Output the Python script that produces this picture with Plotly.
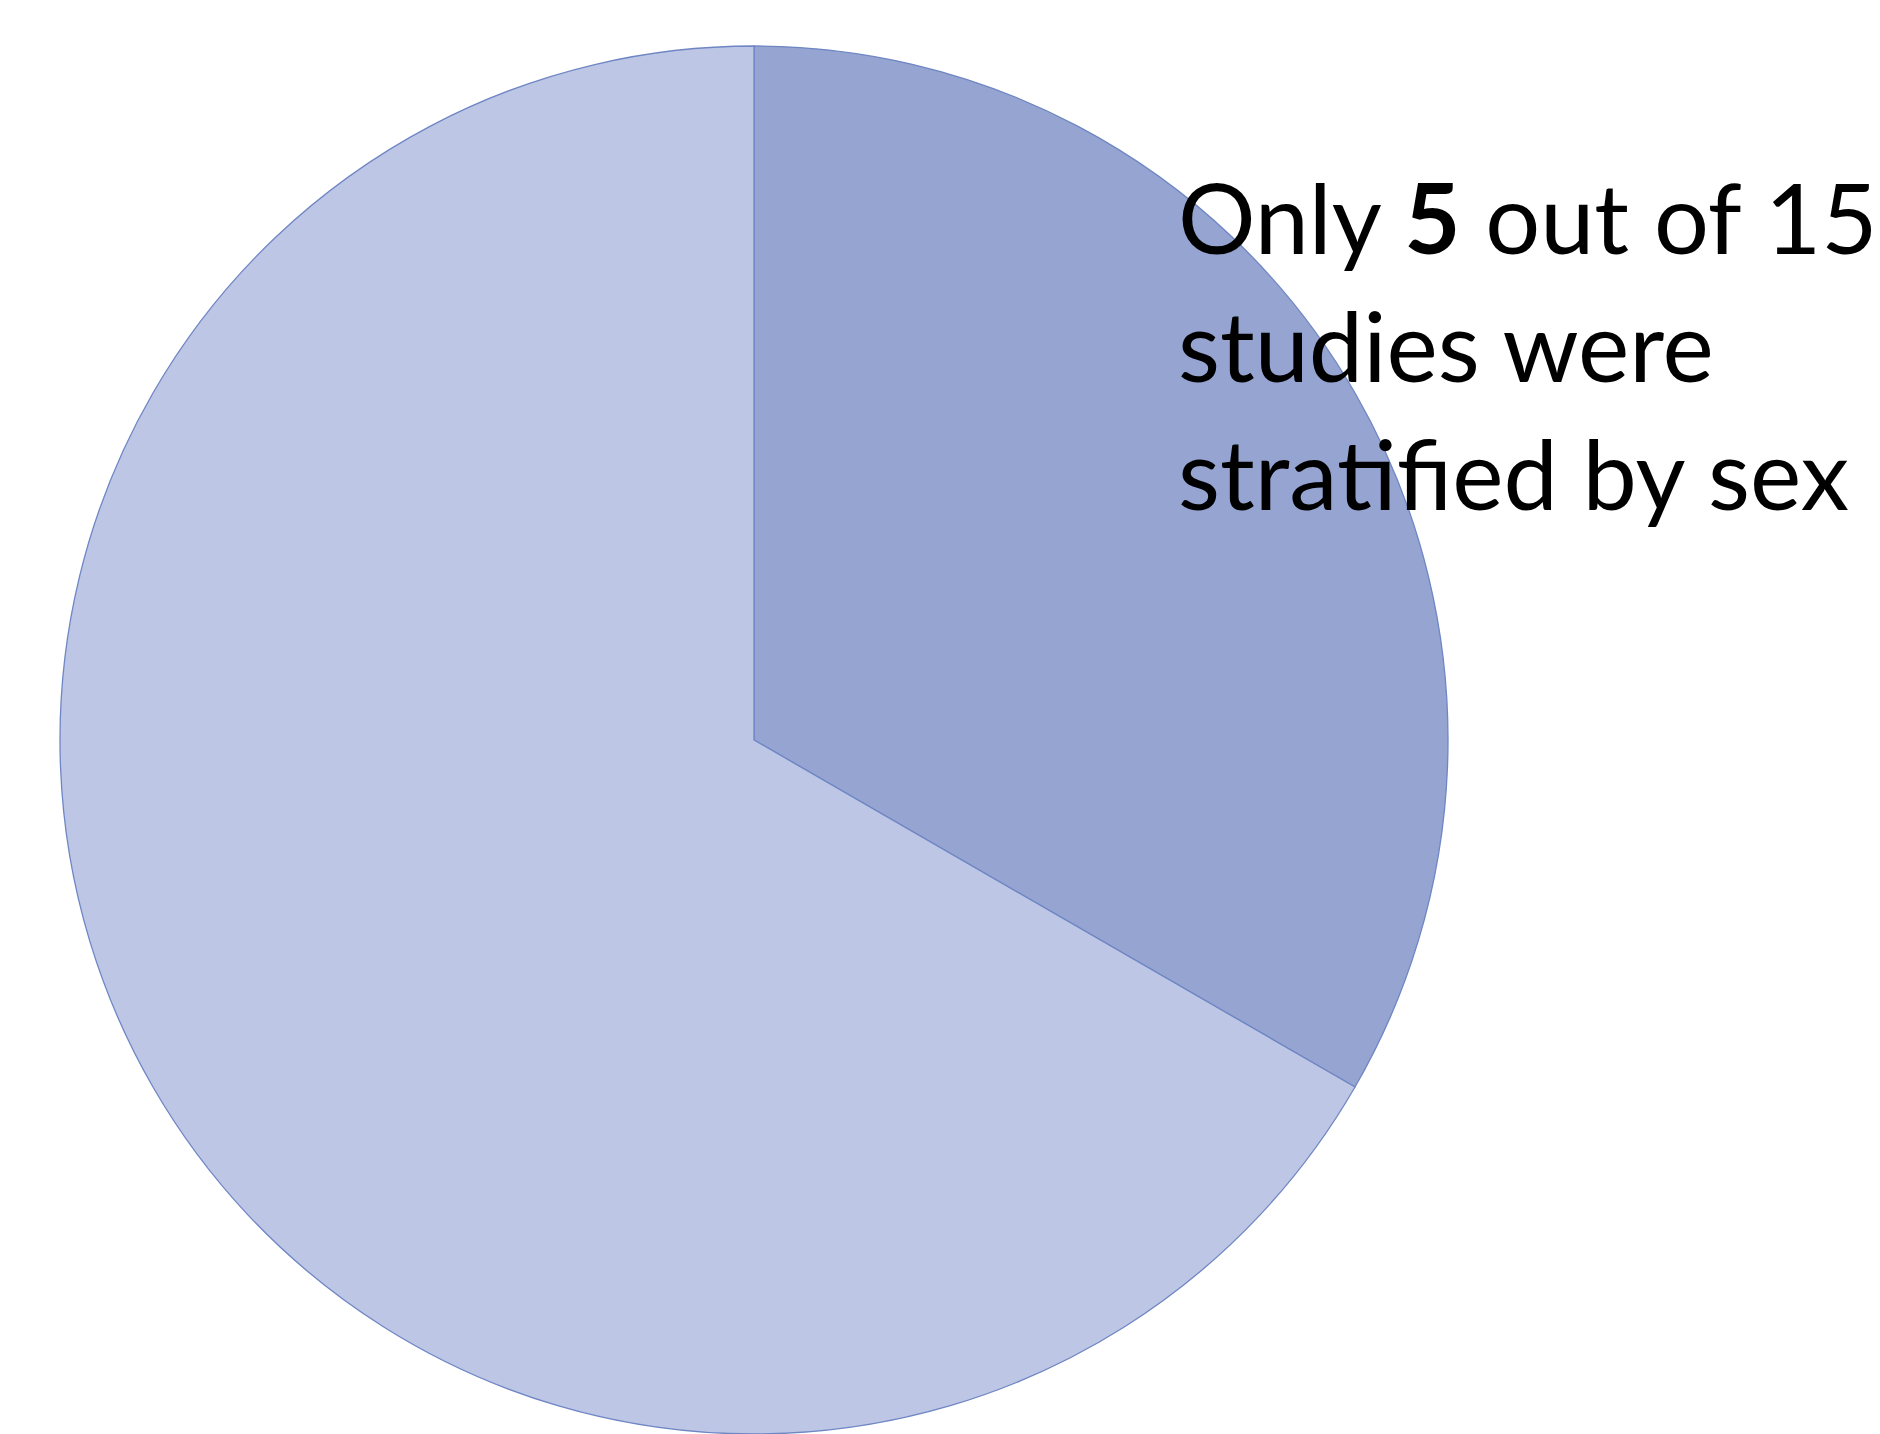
import plotly.graph_objects as go

# Data
labels = ["Stratified by sex", "Not stratified by sex"]
values = [5, 10]
slice_colors = ["#95A4D0", "#BDC6E5"]
text_lines = ["Only <b>5</b> out of 15", "studies were", "stratified by sex"]

W, H = 1880, 1434

fig = go.Figure()
fig.add_trace(go.Pie(
    labels=labels,
    values=values,
    sort=False,
    direction="clockwise",
    rotation=0,
    textinfo="none",
    hoverinfo="label+value",
    marker=dict(colors=slice_colors, line=dict(color="#6F86C4", width=1.3)),
    domain=dict(x=[60 / W, 1448 / W], y=[0, (H - 46) / H]),
    showlegend=False,
))

# one annotation per line so baselines match the reference spacing
baselines_px = [254, 382, 510]
fs = 97
for line, b in zip(text_lines, baselines_px):
    fig.add_annotation(
        xref="paper", yref="paper",
        x=1176 / W, y=1 - (b + 0.24 * fs) / H,
        xanchor="left", yanchor="bottom",
        align="left",
        showarrow=False,
        text=line,
        font=dict(family="Lato, Carlito, Calibri, sans-serif", size=fs, color="#000000"),
    )

fig.update_layout(
    width=W, height=H,
    margin=dict(l=0, r=0, t=0, b=0),
    paper_bgcolor="white",
    plot_bgcolor="white",
)

fig.write_html("out.html")
